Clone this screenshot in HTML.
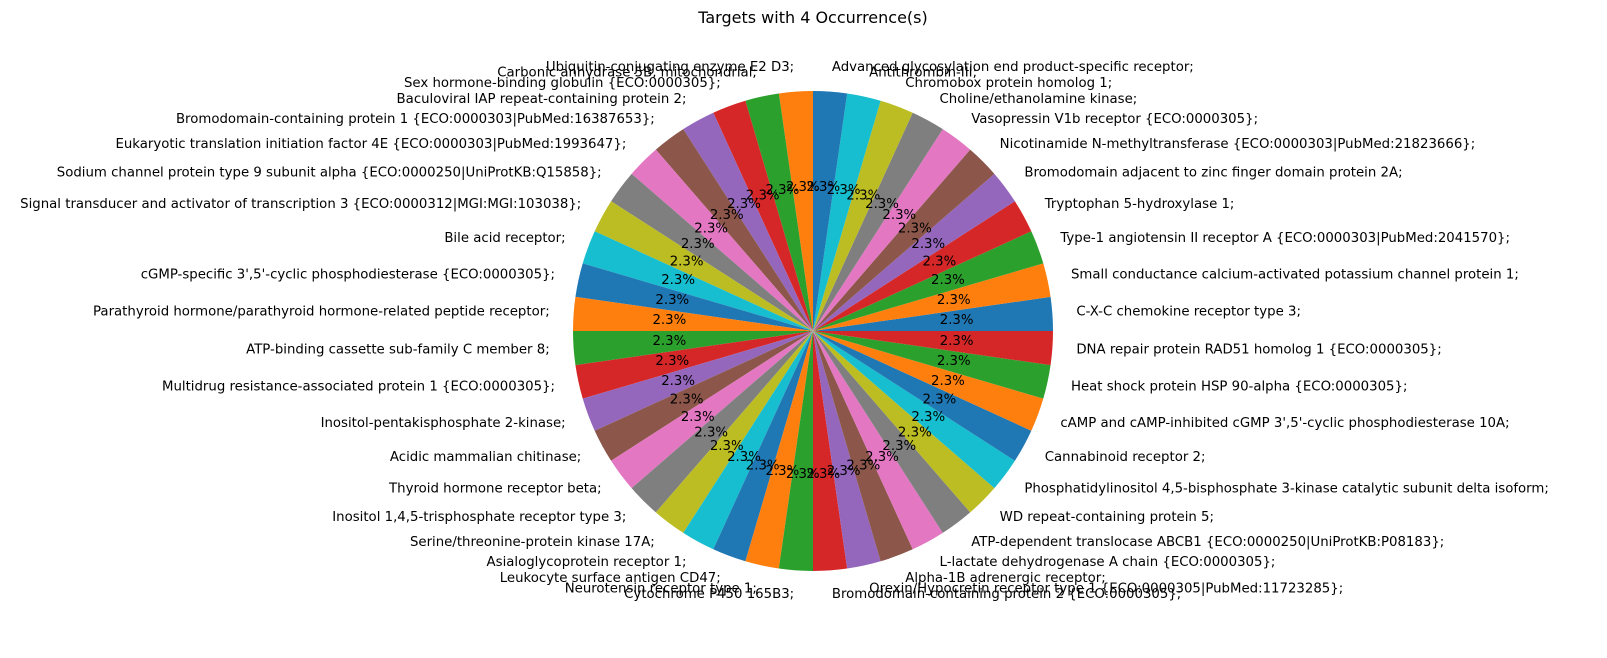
<!DOCTYPE html>
<html><head><meta charset="utf-8"><style>
html,body{margin:0;padding:0;background:#fff;overflow:hidden;width:1607px;height:658px;}
svg{display:block;font-family:"DejaVu Sans","Liberation Sans",sans-serif;}
</style></head><body>
<svg id="chart" width="1607" height="658">
<rect width="1607" height="658" fill="#fff"/>
<text x="813" y="23" font-size="16" text-anchor="middle">Targets with 4 Occurrence(s)</text>
<g id="slices"></g><g id="labels"></g>
</svg>
<script>
const categories = ["C-X-C chemokine receptor type 3;","Small conductance calcium-activated potassium channel protein 1;","Type-1 angiotensin II receptor A {ECO:0000303|PubMed:2041570};","Tryptophan 5-hydroxylase 1;","Bromodomain adjacent to zinc finger domain protein 2A;","Nicotinamide N-methyltransferase {ECO:0000303|PubMed:21823666};","Vasopressin V1b receptor {ECO:0000305};","Choline/ethanolamine kinase;","Chromobox protein homolog 1;","Antithrombin-III;","Advanced glycosylation end product-specific receptor;","Ubiquitin-conjugating enzyme E2 D3;","Carbonic anhydrase 5B, mitochondrial;","Sex hormone-binding globulin {ECO:0000305};","Baculoviral IAP repeat-containing protein 2;","Bromodomain-containing protein 1 {ECO:0000303|PubMed:16387653};","Eukaryotic translation initiation factor 4E {ECO:0000303|PubMed:1993647};","Sodium channel protein type 9 subunit alpha {ECO:0000250|UniProtKB:Q15858};","Signal transducer and activator of transcription 3 {ECO:0000312|MGI:MGI:103038};","Bile acid receptor;","cGMP-specific 3',5'-cyclic phosphodiesterase {ECO:0000305};","Parathyroid hormone/parathyroid hormone-related peptide receptor;","ATP-binding cassette sub-family C member 8;","Multidrug resistance-associated protein 1 {ECO:0000305};","Inositol-pentakisphosphate 2-kinase;","Acidic mammalian chitinase;","Thyroid hormone receptor beta;","Inositol 1,4,5-trisphosphate receptor type 3;","Serine/threonine-protein kinase 17A;","Asialoglycoprotein receptor 1;","Leukocyte surface antigen CD47;","Neurotensin receptor type 1;","Cytochrome P450 165B3;","Bromodomain-containing protein 2 {ECO:0000305};","Orexin/Hypocretin receptor type 1 {ECO:0000305|PubMed:11723285};","Alpha-1B adrenergic receptor;","L-lactate dehydrogenase A chain {ECO:0000305};","ATP-dependent translocase ABCB1 {ECO:0000250|UniProtKB:P08183};","WD repeat-containing protein 5;","Phosphatidylinositol 4,5-bisphosphate 3-kinase catalytic subunit delta isoform;","Cannabinoid receptor 2;","cAMP and cAMP-inhibited cGMP 3',5'-cyclic phosphodiesterase 10A;","Heat shock protein HSP 90-alpha {ECO:0000305};","DNA repair protein RAD51 homolog 1 {ECO:0000305};"];
const values = [4,4,4,4,4,4,4,4,4,4,4,4,4,4,4,4,4,4,4,4,4,4,4,4,4,4,4,4,4,4,4,4,4,4,4,4,4,4,4,4,4,4,4,4];
const colors = ["#1f77b4","#ff7f0e","#2ca02c","#d62728","#9467bd","#8c564b","#e377c2","#7f7f7f","#bcbd22","#17becf"];
const NS="http://www.w3.org/2000/svg";
const cx=813, cy=331, R=240;
const total=values.reduce((a,b)=>a+b,0);
const gs=document.getElementById('slices'), gl=document.getElementById('labels');
function pt(a,r){return [cx+r*Math.cos(a), cy-r*Math.sin(a)];}
let ang=0;
values.forEach((v,i)=>{
  const a0=ang, a1=ang+v/total*2*Math.PI; ang=a1;
  const p0=pt(a0,R), p1=pt(a1,R);
  const path=document.createElementNS(NS,'path');
  path.setAttribute('d',`M${cx},${cy} L${p0[0]},${p0[1]} A${R},${R} 0 ${a1-a0>Math.PI?1:0} 0 ${p1[0]},${p1[1]} Z`);
  path.setAttribute('fill',colors[i%10]);
  
  
  gs.appendChild(path);
  const m=(a0+a1)/2;
  const lp=pt(m,R*1.1);
  const t=document.createElementNS(NS,'text');
  t.setAttribute('x',lp[0]); t.setAttribute('y',lp[1]);
  t.setAttribute('font-size','13.3'); t.setAttribute('dominant-baseline','central');
  t.setAttribute('text-anchor',Math.cos(m)>=0?'start':'end');
  t.textContent=categories[i];
  
  
  gl.appendChild(t);
  const pp=pt(m,R*0.6);
  const pt2=document.createElementNS(NS,'text');
  pt2.setAttribute('x',pp[0]); pt2.setAttribute('y',pp[1]);
  pt2.setAttribute('font-size','13.3'); pt2.setAttribute('dominant-baseline','central');
  pt2.setAttribute('text-anchor','middle');
  pt2.textContent=(v/total*100).toFixed(1)+'%';
  
  
  gl.appendChild(pt2);
});
</script>
</body></html>
